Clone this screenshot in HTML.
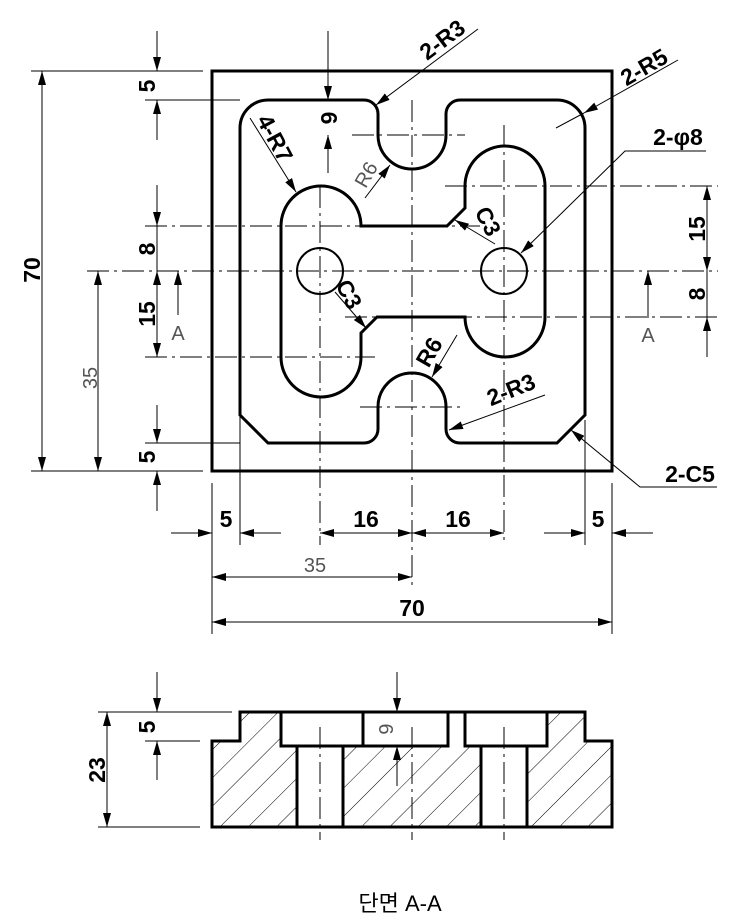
<!DOCTYPE html>
<html><head><meta charset="utf-8"><style>
html,body{margin:0;padding:0;background:#fff;}
svg{display:block;}
.k{stroke:#000;stroke-width:3;fill:none;}
.t{stroke:#000;stroke-width:1;fill:none;}
.c{stroke:#000;stroke-width:1;fill:none;stroke-dasharray:22 5 3 5;}
.a{marker-end:url(#ar);}
.b{marker-start:url(#ar);marker-end:url(#ar);}
.d{font-family:"Liberation Sans",sans-serif;font-weight:bold;font-size:23px;fill:#000;}
.g{font-family:"Liberation Sans",sans-serif;font-size:20px;fill:#555;}
</style></head><body>
<svg width="743" height="924" viewBox="0 0 743 924" xmlns="http://www.w3.org/2000/svg">
<defs>
<marker id="ar" markerUnits="userSpaceOnUse" markerWidth="14" markerHeight="8" refX="14" refY="4" orient="auto-start-reverse"><path d="M0,0 L14,4 L0,8 z" fill="#000"/></marker>
<pattern id="h" patternUnits="userSpaceOnUse" width="20" height="20" patternTransform="rotate(45)"><line x1="0" y1="0" x2="0" y2="20" stroke="#000" stroke-width="1"/></pattern>
</defs>

<line class="c" x1="412" y1="100" x2="412" y2="585"/>
<line class="c" x1="320" y1="186" x2="320" y2="545"/>
<line class="c" x1="504" y1="125" x2="504" y2="545"/>
<line class="c" x1="87" y1="271" x2="718" y2="271"/>
<line class="c" x1="352" y1="135" x2="465" y2="135"/>
<line class="c" x1="445" y1="186" x2="718" y2="186"/>
<line class="c" x1="145" y1="226" x2="480" y2="226"/>
<line class="c" x1="345" y1="317" x2="718" y2="317"/>
<line class="c" x1="145" y1="357" x2="375" y2="357"/>
<line class="c" x1="360" y1="407" x2="465" y2="407"/>

<rect class="k" x="212" y="71" width="400" height="400"/>
<path class="k" d="M240,128 A28,28 0 0 1 268,100 L364,100 A14,14 0 0 1 378,114 L378,135 A34,34 0 0 0 446,135 L446,114 A14,14 0 0 1 460,100 L557,100 A28,28 0 0 1 585,128 L585,415 L557,443 L460,443 A14,14 0 0 1 446,429 L446,407 A34,34 0 0 0 378,407 L378,429 A14,14 0 0 1 364,443 L268,443 L240,415 Z"/>
<path class="k" d="M361,226 L447,226 L465,208 L465,186 A40,40 0 0 1 545,186 L545,317 A40,40 0 0 1 465,317 L377,317 L361,333 L361,357 A40,40 0 0 1 281,357 L281,226 A40,40 0 0 1 361,226 Z"/>
<circle cx="320" cy="271" r="23" stroke="#000" stroke-width="2" fill="none"/>
<circle cx="504" cy="271" r="23" stroke="#000" stroke-width="2" fill="none"/>

<line class="t" x1="31" y1="71" x2="203" y2="71"/>
<line class="t" x1="31" y1="471" x2="203" y2="471"/>
<line class="t b" x1="42" y1="71" x2="42" y2="471"/>
<text class="d" transform="translate(40,270) rotate(-90)" text-anchor="middle">70</text>
<line class="t b" x1="98" y1="271" x2="98" y2="471"/>
<text class="g" transform="translate(97,378) rotate(-90)" text-anchor="middle">35</text>
<line class="t" x1="145" y1="100" x2="240" y2="100"/>
<line class="t" x1="145" y1="443" x2="240" y2="443"/>
<line class="t a" x1="157" y1="31" x2="157" y2="71"/>
<line class="t a" x1="157" y1="140" x2="157" y2="100"/>
<text class="d" transform="translate(155,86) rotate(-90)" text-anchor="middle">5</text>
<line class="t a" x1="157" y1="185" x2="157" y2="226"/>
<line class="t b" x1="157" y1="271" x2="157" y2="357"/>
<line class="t" x1="157" y1="226" x2="157" y2="271"/>
<text class="d" transform="translate(155,249) rotate(-90)" text-anchor="middle">8</text>
<text class="d" transform="translate(155,314) rotate(-90)" text-anchor="middle">15</text>
<line class="t a" x1="157" y1="405" x2="157" y2="443"/>
<line class="t a" x1="157" y1="511" x2="157" y2="471"/>
<text class="d" transform="translate(155,457) rotate(-90)" text-anchor="middle">5</text>
<line class="t a" x1="178" y1="315" x2="178" y2="271"/>
<text class="g" x="178" y="340" text-anchor="middle">A</text>
<line class="t a" x1="648" y1="318" x2="648" y2="271"/>
<text class="g" x="648" y="342" text-anchor="middle">A</text>

<line class="t b" x1="707" y1="186" x2="707" y2="271"/>
<text class="d" transform="translate(705,229) rotate(-90)" text-anchor="middle">15</text>
<line class="t a" x1="707" y1="357" x2="707" y2="317"/>
<line class="t" x1="707" y1="271" x2="707" y2="317"/>
<text class="d" transform="translate(705,294) rotate(-90)" text-anchor="middle">8</text>

<line class="t" x1="212" y1="483" x2="212" y2="634"/>
<line class="t" x1="612" y1="483" x2="612" y2="634"/>
<line class="t" x1="240" y1="415" x2="240" y2="545"/>
<line class="t" x1="585" y1="420" x2="585" y2="545"/>
<line class="t a" x1="171" y1="533" x2="212" y2="533"/>
<line class="t a" x1="281" y1="533" x2="240" y2="533"/>
<text class="d" x="226" y="527" text-anchor="middle">5</text>
<line class="t b" x1="320" y1="533" x2="412" y2="533"/>
<text class="d" x="366" y="527" text-anchor="middle">16</text>
<line class="t b" x1="412" y1="533" x2="504" y2="533"/>
<text class="d" x="458" y="527" text-anchor="middle">16</text>
<line class="t a" x1="544" y1="533" x2="585" y2="533"/>
<line class="t a" x1="653" y1="533" x2="612" y2="533"/>
<text class="d" x="598" y="527" text-anchor="middle">5</text>
<line class="t b" x1="212" y1="577" x2="412" y2="577"/>
<text class="g" x="315" y="572" text-anchor="middle">35</text>
<line class="t b" x1="212" y1="622" x2="612" y2="622"/>
<text class="d" x="412" y="616" text-anchor="middle">70</text>

<line class="t a" x1="328" y1="31" x2="328" y2="100"/>
<line class="t a" x1="328" y1="173" x2="328" y2="135"/>
<text class="d" transform="translate(321,118) rotate(90)" text-anchor="middle">6</text>

<line class="t a" x1="478" y1="29" x2="376" y2="105"/>
<text class="d" transform="translate(447,46) rotate(-37)" text-anchor="middle">2-R3</text>
<line class="t a" x1="678" y1="60" x2="584" y2="113"/>
<line class="t" x1="584" y1="113" x2="556" y2="128"/>
<text class="d" transform="translate(648,74) rotate(-30)" text-anchor="middle">2-R5</text>
<polyline class="t a" points="706,151 625,151 521,253"/>
<text class="d" x="678" y="145" text-anchor="middle">2-φ8</text>
<polyline class="t a" points="717,487 640,487 571,430"/>
<text class="d" x="690" y="482" text-anchor="middle">2-C5</text>
<line class="t a" x1="545" y1="395" x2="449" y2="430"/>
<text class="d" transform="translate(514,397) rotate(-22)" text-anchor="middle">2-R3</text>
<line class="t a" x1="457" y1="335" x2="432" y2="377"/>
<text class="d" transform="translate(436,356) rotate(-60)" text-anchor="middle">R6</text>
<line class="t a" x1="365" y1="198" x2="390" y2="165"/>
<text class="g" transform="translate(372,178) rotate(-60)" text-anchor="middle">R6</text>
<line class="t a" x1="495" y1="244" x2="455" y2="220"/>
<text class="d" transform="translate(481,225) rotate(62)" text-anchor="middle">C3</text>
<line class="t a" x1="335" y1="292" x2="366" y2="328"/>
<text class="d" transform="translate(342,298) rotate(62)" text-anchor="middle">C3</text>
<line class="t a" x1="250" y1="118" x2="296" y2="192"/>
<text class="d" transform="translate(268,142) rotate(62)" text-anchor="middle">4-R7</text>

<path d="M240,712 L281,712 L281,746 L297,746 L297,827 L212,827 L212,741 L240,741 Z" fill="url(#h)"/>
<path d="M343,746 L481,746 L481,827 L343,827 Z" fill="url(#h)"/>
<path d="M585,712 L547,712 L547,746 L527,746 L527,827 L612,827 L612,741 L585,741 Z" fill="url(#h)"/>
<path class="k" d="M240,712 L585,712 L585,741 L612,741 L612,827 L212,827 L212,741 L240,741 Z"/>
<rect class="k" x="281" y="712" width="82" height="34"/>
<rect class="k" x="363" y="712" width="85" height="34"/>
<rect class="k" x="465" y="712" width="82" height="34"/>
<line class="k" x1="297" y1="746" x2="297" y2="827"/>
<line class="k" x1="343" y1="746" x2="343" y2="827"/>
<line class="k" x1="481" y1="746" x2="481" y2="827"/>
<line class="k" x1="527" y1="746" x2="527" y2="827"/>
<line class="c" x1="320" y1="727" x2="320" y2="840"/>
<line class="c" x1="412" y1="727" x2="412" y2="840"/>
<line class="c" x1="504" y1="727" x2="504" y2="840"/>

<line class="t" x1="98" y1="712" x2="232" y2="712"/>
<line class="t" x1="98" y1="827" x2="200" y2="827"/>
<line class="t" x1="145" y1="741" x2="200" y2="741"/>
<line class="t b" x1="107" y1="712" x2="107" y2="827"/>
<text class="d" transform="translate(105,770) rotate(-90)" text-anchor="middle">23</text>
<line class="t a" x1="157" y1="672" x2="157" y2="712"/>
<line class="t a" x1="157" y1="780" x2="157" y2="741"/>
<text class="d" transform="translate(155,727) rotate(-90)" text-anchor="middle">5</text>
<line class="t a" x1="397" y1="672" x2="397" y2="712"/>
<line class="t a" x1="397" y1="786" x2="397" y2="746"/>
<text class="g" transform="translate(379,729) rotate(90)" text-anchor="middle">6</text>

<text x="400" y="911" text-anchor="middle" style="font-family:'Liberation Sans','Noto Sans CJK KR',sans-serif;font-size:22px;fill:#000;">단면 A-A</text>
</svg>
</body></html>
